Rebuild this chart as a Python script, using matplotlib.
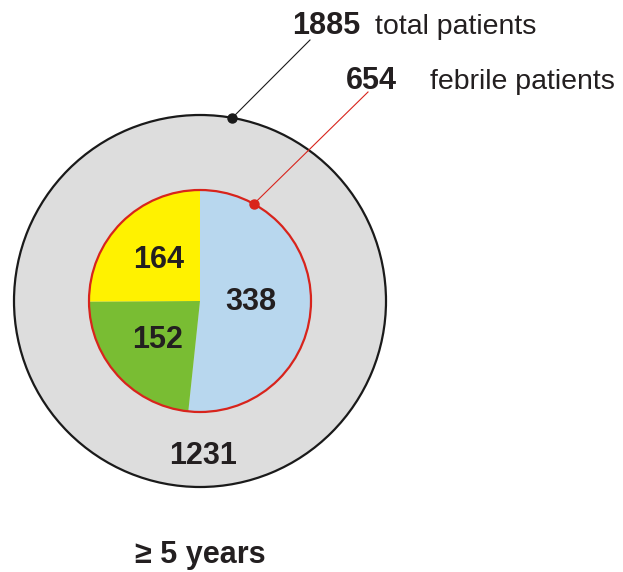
import numpy as np
import matplotlib
matplotlib.use("Agg")
import matplotlib.pyplot as plt
from matplotlib.patches import Circle

# data
total = 1885
febrile = 654
non_febrile = 1231
febrile_parts = [338, 152, 164]
part_colors = ['#b8d7ee', '#79bd33', '#fff200']
title = '\u2265 5 years'

plt.rcParams['font.family'] = ['Liberation Sans', 'DejaVu Sans']

W, H = 623, 572
fig = plt.figure(figsize=(W / 100, H / 100), dpi=100)
ax = fig.add_axes([0, 0, 1, 1])

cx, cy = 200, 271
r_out, r_in = 186, 111
txt = '#231f20'

# outer circle (all patients)
ax.pie([total], radius=r_out, center=(cx, cy), colors=['#dddddd'],
       wedgeprops=dict(edgecolor='#1a1a1a', linewidth=1.6), frame=True)

# inner pie (febrile patients)
def fmt(pct):
    return '%d' % round(pct * sum(febrile_parts) / 100)

wedges, texts, autotexts = ax.pie(
    febrile_parts, radius=r_in, center=(cx, cy), colors=part_colors,
    startangle=90, counterclock=False, autopct=fmt, pctdistance=0.52,
    wedgeprops=dict(linewidth=0), frame=True)
for t in autotexts:
    t.set_fontsize(22)
    t.set_fontweight('bold')
    t.set_color(txt)
autotexts[0].set_position((cx + 51, cy - 1))

ax.add_patch(Circle((cx, cy), r_in, fill=False, edgecolor='#d8241c', linewidth=1.6))

ax.text(cx + 3, cy - 155, str(non_febrile), ha='center', va='center',
        fontsize=22, fontweight='bold', color=txt)

# leader lines
a1 = np.deg2rad(80)
p1 = (cx + r_out * np.cos(a1), cy + r_out * np.sin(a1))
ax.plot([p1[0], 310], [p1[1], 532], color='#1a1a1a', lw=0.8)
ax.plot(*p1, 'o', color='#1a1a1a', ms=6.5)

a2 = np.deg2rad(61)
p2 = (cx + r_in * np.cos(a2), cy + r_in * np.sin(a2))
ax.plot([p2[0], 368], [p2[1], 480], color='#d8241c', lw=0.8)
ax.plot(*p2, 'o', color='#d8241c', ms=6.5)

ax.text(292, 538, str(total), ha='left', va='baseline', fontsize=22,
        fontweight='bold', color=txt)
ax.text(375, 538, 'total patients', ha='left', va='baseline', fontsize=20.5, color=txt)
ax.text(346, 483, str(febrile), ha='left', va='baseline', fontsize=22,
        fontweight='bold', color=txt)
ax.text(430, 483, 'febrile patients', ha='left', va='baseline', fontsize=20.5, color=txt)

ax.text(200, 9, title, ha='center', va='baseline', fontsize=22,
        fontweight='bold', color=txt)

ax.set_xlim(0, W)
ax.set_ylim(0, H)
ax.set_aspect('equal')
ax.axis('off')

fig.savefig('out.png', dpi=100)
